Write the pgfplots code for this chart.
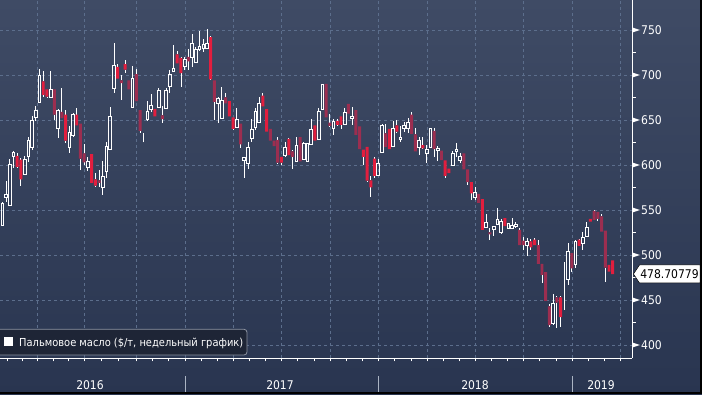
\documentclass[border=0pt]{standalone}
\usepackage{fontspec}
\IfFontExistsTF{DejaVu Sans Condensed}{\setmainfont{DejaVu Sans Condensed}}{\setmainfont{DejaVu Sans}}
\usepackage{pgfplots}
\pgfplotsset{compat=1.18}
\usepackage{pgfplotstable}

\definecolor{bgtop}{RGB}{63,75,101}
\definecolor{bgbot}{RGB}{41,53,80}
\definecolor{gridc}{RGB}{92,110,140}
\definecolor{redA}{RGB}{226,30,62}
\definecolor{redB}{RGB}{156,46,80}
\definecolor{legbg}{RGB}{30,37,54}
\definecolor{legbd}{RGB}{140,146,160}
\definecolor{sepc}{RGB}{170,180,195}

% x = week index, o h l c = open high low close
\pgfplotstableread{
x o h l c
1 533 559 532 557
2 564 582 559 567
3 555 607 555 601
4 610 615 597 614
7 590 610 590 606
8 609 631 603 627
9 620 654 617 650
10 653 666 649 661
11 669 707 669 700
14 675 704 675 684
16 641 662 630 661
19 620 643 613 636
20 633 658 631 656
24 597 609 593 604
28 575 604 567 587
29 593 625 586 621
30 617 664 617 654
31 685 735 680 711
36 664 710 664 696
39 625 636 625 625
40 651 671 649 659
41 662 679 659 666
43 664 685 664 683
45 663 685 663 683
46 687 706 680 701
47 704 733 704 707
50 709 720 706 717
52 720 746 709 735
53 714 731 714 728
54 728 749 727 732
55 730 740 725 734
56 730 751 730 735
59 668 675 647 674
60 652 687 652 672
64 642 663 642 651
66 605 609 585 608
67 602 626 596 620
68 630 651 625 640
69 642 663 639 659
70 647 675 647 668
77 611 626 609 620
80 604 631 604 622
82 606 626 606 624
83 604 624 604 624
84 623 651 623 639
86 628 663 628 660
87 662 689 662 689
90 641 651 633 648
93 644.5 663 644.5 658
95 652 664 644 654
102 588 607 588 602
103 614 646 614 644
106 621 649 621 641
108 628 643 626 631
109 641 648 637 644
110 641 652 635 647
113 619 631 611 627
115 613 622 602.5 617
116 620 641 620 641
118 616 621 604 618.6
122 600 615 600 613
123 615 624 609 617
124 605 613 602 610
128 564 575 561 569
131 531 545.5 530.5 536
133 528 532.5 521 532
134 534 552 533 540
135 525 540 523 537
137 530 536 528.5 535
138 530 541 528.5 533
139 531.5 537 531 533.5
142 511 518.5 499 515
149 424 457 422 446
152 439 492.5 439 439
153 473 513 466.5 504
155 489 517 485 515
157 513 526 506 520
158 521 537 520 531
}\hollow

\pgfplotstableread{
x o h l c
5 610 613 597 598
6 606 608 577 584
12 693 704 676 678
13 684 684 675 676
18 656 661 624 627
21 656 663 644 644
25 612 612 580 580
26 584 591 576 577
32 709 712 696 696
34 712 717 702 706
42 662 662 654 654
48 723 727 713 713
49 719 720 687 702
57 742 743 694 695
62 671 671 654 654
63 653 653 639 640
71 677 680 665 665
72 662 662 637 637
76 609 609 600 602.5
78 629 630 611 611
85 644 644 627 627
91 649 651 644 644.5
92 654 654 640 644.5
98 617 617 600 609
99 620 620 582 582.5
100 583 588 564 575
101 607 609 585 588
105 640 640 617.5 617.5
107 644 650 636.5 637
114 622 631 618 618.5
120 605 605 586 588
121 596 596 591 591
127 581 581 561 568.5
130 562 562 528 528
136 541 541 532 532
143 515 517.5 505.5 508.5
144 517 518.5 511 511
151 453 454 420 431
156 517 518 510 510
159 540 540 537 537
164 489 489 481.5 481.5
165 494 494 478.7 478.7
}\redAtab

\pgfplotstableread{
x o h l c
15 684 684 650 656
17 659 686 652 652
22 646 646 594 607
23 613 623 600 603
27 583 594 576 580
33 694 700 672 691
35 694 694 684 684
37 701 707 671 671
38 661 661 636 638
44 655 666 647 651
51 720 729 706 715
58 694 694 650 670
61 675 680 668.5 668.5
65 646 646 619 623
73 640 640 627 627
74 627 627 621 621
75 628 631 602 602.5
79 615 617 596 609
81 631 631 604 604
88 690 690 653 653
89 647 657 643 643.5
94 668 668 657 657
96 661 661 633.5 633.5
97 643 643 617.5 617.5
104 635 646 620 620
111 656 659 634.5 634.5
112 634 641 615 615
117 638 641 609 617.5
119 616 616 605.5 605.5
125 613 613 595 595
126 595 595 578 581
129 568 568 558 558
132 525 530 517 523
140 528 530 511 511
141 516 520 505.5 511
145 511 517 490 490
146 490 490 468.5 478
147 481 481 449 449
148 443 446 420 422
150 453 454.5 418.5 447
154 502 502 481.5 485
160 549 550 539 539
161 548 548 538 540
162 543 546 526 526
163 527 527 470 486
}\redBtab

\pgfplotsset{
  base/.style={scale only axis, width=632pt, height=358pt,
    at={(0pt,36pt)}, anchor=south west,
    xmin=0.382, xmax=170.18, ymin=385.556, ymax=783.333},
  wick/.style={draw=none, mark=none, forget plot,
    error bars/y explicit, error bars/error mark=none,
    error bars/error bar style={draw=white, line width=0.9pt, solid}},
}

\begin{document}
\begin{tikzpicture}
\useasboundingbox (0,0) rectangle (702pt,394pt);
\shade[top color=bgtop, bottom color=bgbot] (0,0) rectangle (702pt,394pt);

\begin{axis}[base,
  axis x line*=bottom, axis y line*=right,
  axis line style={white, line width=1pt, -},
  xtick={10.5,23.0,36.9,50.1,63.1,76.1,89.1,102.1,115.1,128.1,141.1,154.1,167.1},
  minor xtick={2.4,6.4,14.7,18.8,27.6,32.3,41.3,45.7,54.4,58.8,67.4,71.8,80.4,84.8,93.4,97.8,106.4,110.8,119.4,123.8,132.4,136.8,145.4,149.8,158.4,162.8},
  xticklabels={},
  ytick={400,450,...,750}, yticklabels={},
  xmajorgrids, ymajorgrids,
  major grid style={gridc, dash pattern=on 3pt off 3pt, line width=0.8pt},
  tick align=outside, major tick length=3.5pt, minor tick length=3.5pt,
  xtick style={white, line width=0.8pt},
  ytick style={draw=none},
]
% wicks
\addplot[wick, error bars/y dir=plus] table[x=x, y=c, y error expr=\thisrow{h}-\thisrow{c}] {\hollow};
\addplot[wick, error bars/y dir=minus] table[x=x, y=o, y error expr=\thisrow{o}-\thisrow{l}] {\hollow};
\addplot[wick, error bars/y dir=plus] table[x=x, y=o, y error expr=\thisrow{h}-\thisrow{o}] {\redAtab};
\addplot[wick, error bars/y dir=minus] table[x=x, y=c, y error expr=\thisrow{c}-\thisrow{l}] {\redAtab};
\addplot[wick, error bars/y dir=plus] table[x=x, y=o, y error expr=\thisrow{h}-\thisrow{o}] {\redBtab};
\addplot[wick, error bars/y dir=minus] table[x=x, y=c, y error expr=\thisrow{c}-\thisrow{l}] {\redBtab};
\end{axis}

% red bodies (bright)
\begin{axis}[base, hide axis, ybar stacked, bar width=0.8]
\addplot[draw=none, fill=none] table[x=x, y=c] {\redAtab};
\addplot[draw=none, fill=redA] table[x=x, y expr=\thisrow{o}-\thisrow{c}] {\redAtab};
\end{axis}
% red bodies (muted)
\begin{axis}[base, hide axis, ybar stacked, bar width=0.8]
\addplot[draw=none, fill=none] table[x=x, y=c] {\redBtab};
\addplot[draw=none, fill=redB] table[x=x, y expr=\thisrow{o}-\thisrow{c}] {\redBtab};
\end{axis}
% hollow bodies
\begin{axis}[base, hide axis, ybar stacked, bar width=0.72]
\addplot[draw=none, fill=none] table[x=x, y=o] {\hollow};
\addplot[draw=white, fill=none, line width=0.9pt] table[x=x, y expr=\thisrow{c}-\thisrow{o}] {\hollow};
\end{axis}

% right axis ticks and labels
\foreach \v in {400,450,...,750}{
  \pgfmathsetmacro\yy{36+(\v-385.556)*0.9}
  \fill[white] (632pt,\yy pt+2.6pt) -- (640pt,\yy pt) -- (632pt,\yy pt-2.6pt) -- cycle;
  \node[anchor=west, white, inner sep=0pt, font=\fontsize{12}{14}\selectfont] at (641pt,\yy pt) {\v};
}
\foreach \v in {425,475,...,725}{
  \pgfmathsetmacro\yy{36+(\v-385.556)*0.9}
  \draw[white, line width=0.8pt] (632pt,\yy pt) -- ++(4pt,0);
}

% year labels and separators
\foreach \xx in {185.3,378.3,572.3}{\draw[sepc, line width=0.9pt] (\xx pt,1pt) -- (\xx pt,18pt);}
\foreach \xx/\yr in {90/2016,280/2017,475/2018,601/2019}{
  \node[anchor=base, white, inner sep=0pt, font=\fontsize{12}{14}\selectfont] at (\xx pt,4.5pt) {\yr};}

% legend
\draw[legbd, fill=legbg, rounded corners=3pt, line width=0.8pt] (-6pt,39pt) rectangle (247pt,64.7pt);
\fill[white] (4pt,48pt) rectangle (13pt,57pt);
\node[anchor=base west, white, inner sep=0pt, font=\fontsize{11}{13}\selectfont] at (19pt,47.5pt) {Пальмовое масло (\$/т, недельный график)};

% last price label
\filldraw[fill=white, draw=black, line width=0.5pt] (633.5pt,120pt) -- (639.5pt,129pt) -- (700pt,129pt) -- (700pt,111pt) -- (639.5pt,111pt) -- cycle;
\node[black, inner sep=0pt, font=\fontsize{12}{14}\selectfont] at (669.5pt,120pt) {478.70779};

% frame
\fill[black] (700pt,0) rectangle (702pt,394pt);
\fill[black] (0,0) rectangle (702pt,2pt);
\end{tikzpicture}
\end{document}
